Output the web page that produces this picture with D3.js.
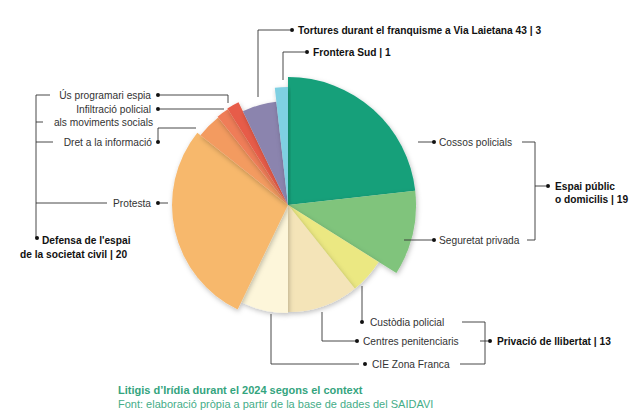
<!DOCTYPE html>
<html><head><meta charset="utf-8">
<script src="https://cdn.jsdelivr.net/npm/d3@7"></script>
<style>
body{margin:0;background:#fff;}
text{font-family:"Liberation Sans",Arial,sans-serif;font-size:10.2px;fill:#333;}
.b{font-weight:bold;fill:#111;}
</style></head>
<body><div id="chart"></div>
<script>
// Litigis per context (total 56)
var categories = ["Cossos policials","Seguretat privada","Custòdia policial","Centres penitenciaris",
  "CIE Zona Franca","Protesta","Dret a la informació","Infiltració policial","Ús programari espia",
  "Tortures durant el franquisme a Via Laietana 43","Frontera Sud"];
var values = [13, 6, 3, 6, 4, 16, 2, 1, 1, 3, 1];
var groups = ["Espai públic o domicilis | 19","Privació de llibertat | 13","Defensa de l'espai de la societat civil | 20"];
var colors = ["#14a07a","#80c47c","#ebe882","#f4e4b8","#fdf6da","#f7b86c","#f39b60","#ef7d58","#e75c48","#8b84ae","#7fd0e2"];
var radii = [128,128,107,107,108,116,112,113,114,104,118];

var W = 630, H = 420, cx = 288, cy = 205;
var svg = d3.select("#chart").append("svg").attr("width", W).attr("height", H);

var defs = svg.append("defs");
var f = defs.append("filter").attr("id","sh").attr("x","-20%").attr("y","-20%").attr("width","140%").attr("height","140%");
f.append("feDropShadow").attr("dx",1).attr("dy",2).attr("stdDeviation",2.5).attr("flood-color","#000").attr("flood-opacity",0.25);

var pie = d3.pie().sort(null).value(function(d){ return d; });
var arcs = pie(values);
var g = svg.append("g").attr("transform","translate(" + cx + "," + cy + ")");
g.selectAll("path").data(arcs).enter().append("path")
  .attr("d", function(d,i){ return d3.arc().innerRadius(0).outerRadius(radii[i])(d); })
  .attr("fill", function(d,i){ return colors[i]; })
  .attr("filter","url(#sh)");

// leader lines
var L = svg.append("g").attr("fill","none").attr("stroke","#333").attr("stroke-width",0.9);
function line(pts){ L.append("path").attr("d", d3.line()(pts)); }
function dot(x,y){ svg.append("circle").attr("cx",x).attr("cy",y).attr("r",2).attr("fill","#111"); }
function txt(x,y,s,anchor,cls){ svg.append("text").attr("x",x).attr("y",y).attr("dy","0.35em")
  .attr("text-anchor",anchor||"start").attr("class",cls||null).text(s); }

// right group
line([[418,142],[433,142]]); dot(434,142); txt(439,142,categories[0]);
line([[522,142],[535,142],[535,240],[527,240]]);
line([[404,240],[433,240]]); dot(434,240); txt(439,240,categories[1]);
line([[535,186],[546,186]]); dot(548,186);
txt(555,186,"Espai públic",null,"b"); txt(555,199,"o domicilis | 19",null,"b");

// bottom group
line([[362,286],[362,322]]); dot(362,322); txt(370,322,categories[2]);
line([[322,312],[322,341],[356,341]]); dot(357,341); txt(363,341,categories[3]);
line([[271,314],[271,364],[359,364]]); dot(365,364); txt(372,364,categories[4]);
line([[462,322],[485,322],[485,364],[460,364]]);
line([[480,341],[488,341]]); dot(490,341); txt(497,341,"Privació de llibertat | 13",null,"b");

// left group
txt(151,95,categories[8],"end"); dot(158,95); line([[160,95],[228,95],[228,103]]);
txt(151,109,categories[7],"end"); txt(153,122,"als moviments socials","end");
dot(158,109); line([[160,109],[224,109]]);
txt(152,142,categories[6],"end"); dot(158,142); line([[158,142],[158,128],[196,128]]);
txt(151,203,categories[5],"end"); dot(158,203); line([[160,203],[168,203]]);
line([[50,95],[36,95],[36,238]]);
line([[36,122],[43,122]]); line([[36,142],[53,142]]); line([[36,203],[107,203]]);
dot(37,238);
txt(42,240,"Defensa de l'espai",null,"b"); txt(20,254,"de la societat civil | 20",null,"b");

// top
line([[258,97],[258,30],[290,30]]); dot(292,30); txt(298,30,categories[9] + " | 3",null,"b");
line([[283,80],[283,52],[305,52]]); dot(307,52); txt(313,52,categories[10] + " | 1",null,"b");

// footer
svg.append("text").attr("x",118).attr("y",394).style("font-size","11px").style("font-weight","bold")
  .style("fill","#34a47e").text("Litigis d’Irídia durant el 2024 segons el context");
svg.append("text").attr("x",118).attr("y",408).style("font-size","11px")
  .style("fill","#45ad88").text("Font: elaboració pròpia a partir de la base de dades del SAIDAVI");
</script></body></html>
